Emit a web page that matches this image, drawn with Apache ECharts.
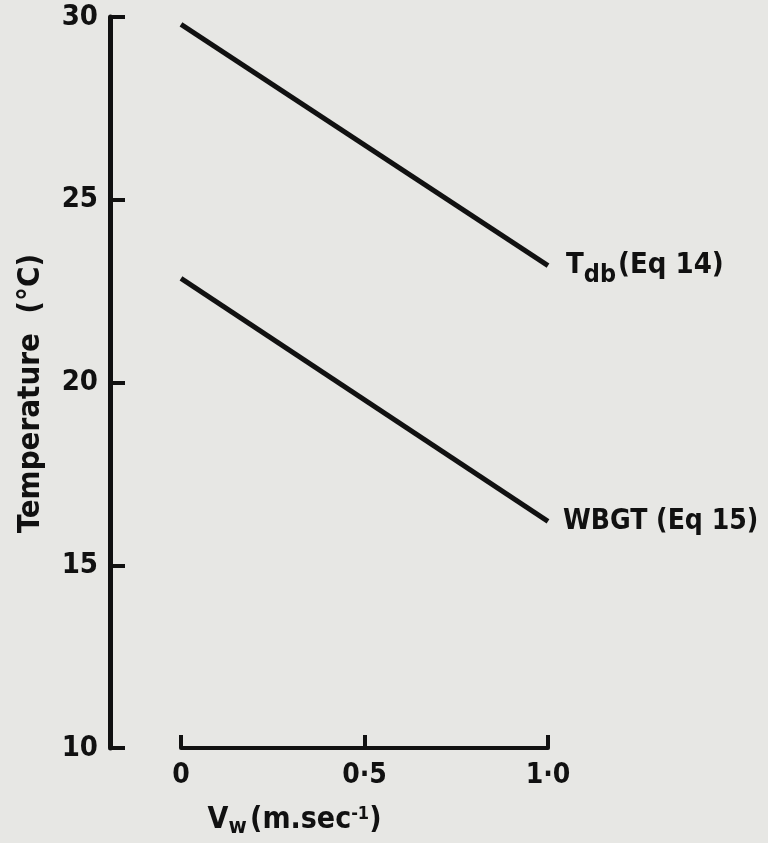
<!DOCTYPE html>
<html>
<head>
<meta charset="utf-8">
<script src="https://cdn.jsdelivr.net/npm/echarts@6/dist/echarts.min.js"></script>
<style>
html,body{margin:0;padding:0;background:#e7e7e4;}
#c{width:768px;height:843px;}
</style>
</head>
<body>
<div id="c"></div>
<script>
var xValues = [0, 1.0];
var tdbValues = [29.8, 23.2];
var wbgtValues = [22.85, 16.2];
var yTicks = [10, 15, 20, 25, 30];
var xTickLabels = {'0': '0', '0.5': '0·5', '1': '1·0'};

var FONT = '"DejaVu Sans Condensed", "DejaVu Sans", sans-serif';
var INK = '#111';

var chart = echarts.init(document.getElementById('c'));
chart.setOption({
  backgroundColor: '#e7e7e4',
  animation: false,
  grid: {left: 181, right: 220, top: 17, bottom: 84, containLabel: false},
  xAxis: {
    type: 'value', min: 0, max: 1, interval: 0.5,
    axisLine: {show: true, onZero: false, lineStyle: {color: INK, width: 4}},
    axisTick: {show: true, inside: true, length: 13, lineStyle: {color: INK, width: 4}},
    splitLine: {show: false},
    axisLabel: {
      margin: 14, color: INK, fontFamily: FONT, fontWeight: 'bold', fontSize: 28,
      formatter: function (v) { return xTickLabels[String(v)]; }
    },
    name: '{v|V}{w|w} {r|(m.sec}{s|-1}{r|)}',
    nameLocation: 'middle',
    nameGap: 54,
    nameTextStyle: {
      padding: [0, 0, 0, -140],
      rich: {
        v: {fontFamily: FONT, fontWeight: 'bold', fontSize: 30, color: INK},
        w: {fontFamily: FONT, fontWeight: 'bold', fontSize: 22, color: INK, padding: [14, 0, 0, 0]},
        r: {fontFamily: FONT, fontWeight: 'bold', fontSize: 30, color: INK},
        s: {fontFamily: FONT, fontWeight: 'bold', fontSize: 18, color: INK, padding: [0, 0, 12, 0]}
      }
    }
  },
  yAxis: {
    type: 'value', min: 10, max: 30, interval: 5,
    offset: 71,
    axisLine: {show: true, onZero: false, lineStyle: {color: INK, width: 5}},
    axisTick: {show: true, inside: true, length: 15, lineStyle: {color: INK, width: 4}},
    splitLine: {show: false},
    axisLabel: {margin: 12, color: INK, fontFamily: FONT, fontWeight: 'bold', fontSize: 29},
    name: 'Temperature  (°C)',
    nameLocation: 'middle',
    nameGap: 64,
    nameRotate: 90,
    nameTextStyle: {color: INK, fontFamily: FONT, fontWeight: 'bold', fontSize: 31, padding: [0, 22, 0, 0]}
  },
  series: [
    {
      name: 'Tdb', type: 'line', symbol: 'none',
      data: xValues.map(function (x, i) { return [x, tdbValues[i]]; }),
      lineStyle: {color: INK, width: 5},
      endLabel: {
        show: true, distance: 18,
        formatter: '{t|T}{d|db}{r|(Eq 14)}',
        rich: {
          t: {fontFamily: FONT, fontWeight: 'bold', fontSize: 29, color: INK},
          d: {fontFamily: FONT, fontWeight: 'bold', fontSize: 25, color: INK, padding: [20, 2, 0, 0]},
          r: {fontFamily: FONT, fontWeight: 'bold', fontSize: 29, color: INK}
        }
      }
    },
    {
      name: 'WBGT', type: 'line', symbol: 'none',
      data: xValues.map(function (x, i) { return [x, wbgtValues[i]]; }),
      lineStyle: {color: INK, width: 5},
      endLabel: {
        show: true, distance: 15,
        formatter: 'WBGT (Eq 15)',
        fontFamily: FONT, fontWeight: 'bold', fontSize: 28, color: INK
      }
    }
  ]
});
</script>
</body>
</html>
